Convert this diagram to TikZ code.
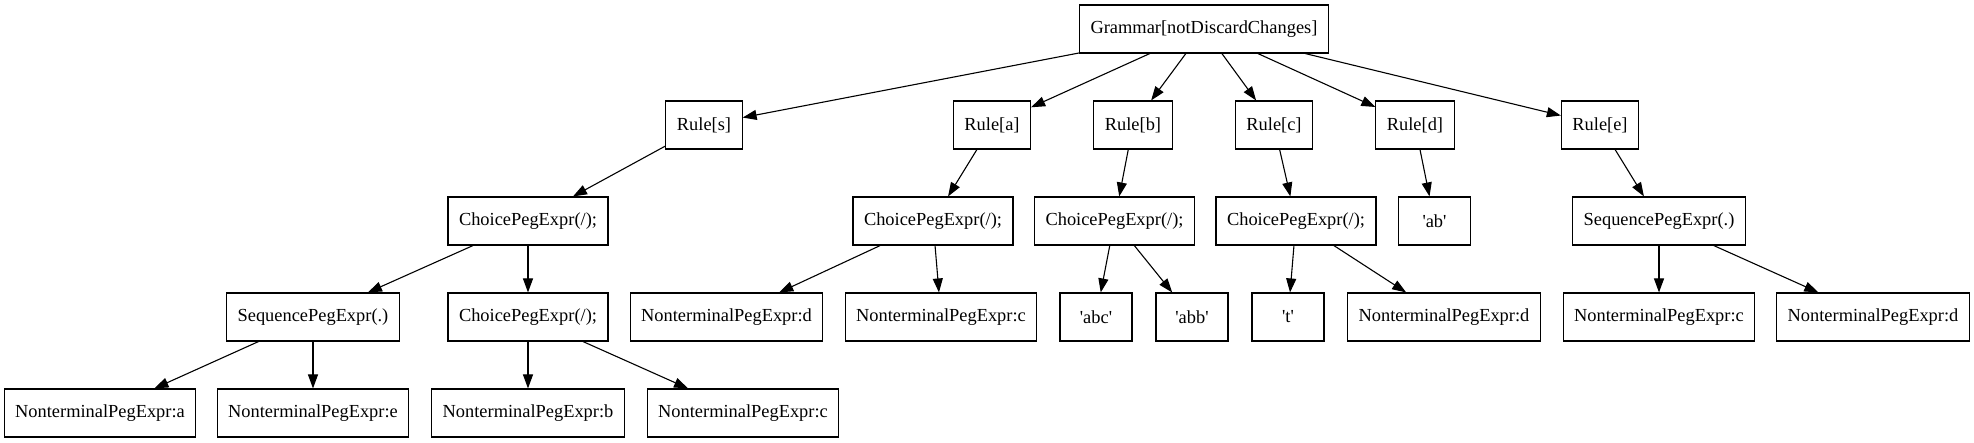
\documentclass[tikz,border=0pt]{standalone}
\usepackage{fontspec}
\setmainfont{Liberation Serif}
\usetikzlibrary{arrows.meta}
\newcommand{\squote}{\textquotesingle}

\begin{document}
\begin{tikzpicture}[x=1pt, y=-1pt, font=\fontsize{18.4}{22}\selectfont,
    box/.style={draw, line width=1.1pt, minimum height=48pt, minimum width=72pt, inner xsep=11pt},
    edge/.style={-{Triangle[length=14pt, width=10pt]}, line width=1.1pt}]
  \useasboundingbox (0,0) rectangle (1974,443);
  \node[box] (grammar) at (1204,29) {Grammar[notDiscardChanges]};
  % rules
  \node[box] (rules) at (704,125) {Rule[s]};
  \node[box] (rulea) at (992,125) {Rule[a]};
  \node[box] (ruleb) at (1133,125) {Rule[b]};
  \node[box] (rulec) at (1274,125) {Rule[c]};
  \node[box] (ruled) at (1415,125) {Rule[d]};
  \node[box] (rulee) at (1600,125) {Rule[e]};
  % bodies
  \node[box] (choices) at (528,221) {ChoicePegExpr(/);};
  \node[box] (choicea) at (933,221) {ChoicePegExpr(/);};
  \node[box] (choiceb) at (1114.5,221) {ChoicePegExpr(/);};
  \node[box] (choicec) at (1296,221) {ChoicePegExpr(/);};
  \node[box] (termd) at (1434.5,221) {\squote ab\squote};
  \node[box] (seqe) at (1659,221) {SequencePegExpr(.)};
  % third level
  \node[box] (seqs) at (313,317) {SequencePegExpr(.)};
  \node[box] (choices2) at (528,317) {ChoicePegExpr(/);};
  \node[box] (nta-d) at (726.5,317) {NonterminalPegExpr:d};
  \node[box] (nta-c) at (941,317) {NonterminalPegExpr:c};
  \node[box] (termb1) at (1096,317) {\squote abc\squote};
  \node[box] (termb2) at (1192,317) {\squote abb\squote};
  \node[box] (termc) at (1288,317) {\squote t\squote};
  \node[box] (ntc-d) at (1444,317) {NonterminalPegExpr:d};
  \node[box] (nte-c) at (1659,317) {NonterminalPegExpr:c};
  \node[box] (nte-d) at (1873,317) {NonterminalPegExpr:d};
  % fourth level
  \node[box] (nts-a) at (100,413) {NonterminalPegExpr:a};
  \node[box] (nts-e) at (313,413) {NonterminalPegExpr:e};
  \node[box] (nts-b) at (528,413) {NonterminalPegExpr:b};
  \node[box] (nts-c) at (743,413) {NonterminalPegExpr:c};

  \foreach \from/\to in {grammar/rules, grammar/rulea, grammar/ruleb, grammar/rulec,
      grammar/ruled, grammar/rulee, rules/choices, rulea/choicea, ruleb/choiceb,
      rulec/choicec, ruled/termd, rulee/seqe, choices/seqs, choices/choices2,
      choicea/nta-d, choicea/nta-c, choiceb/termb1, choiceb/termb2, choicec/termc,
      choicec/ntc-d, seqe/nte-c, seqe/nte-d, seqs/nts-a, seqs/nts-e,
      choices2/nts-b, choices2/nts-c}
    \draw[edge] (\from) -- (\to);
\end{tikzpicture}
\end{document}
